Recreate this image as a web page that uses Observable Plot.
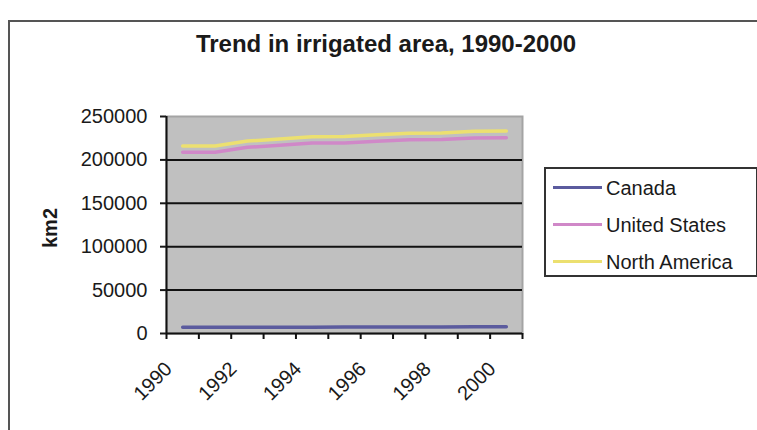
<!DOCTYPE html>
<html><head><meta charset="utf-8">
<script src="https://cdn.jsdelivr.net/npm/d3@7"></script>
<script src="https://cdn.jsdelivr.net/npm/@observablehq/plot@0.6"></script>
<style>
html,body{margin:0;padding:0;background:#fff;}
#wrap{position:relative;width:757px;height:430px;overflow:hidden;font-family:"Liberation Sans",Arial,sans-serif;color:#1a1a1a;}
#chart{position:absolute;left:0;top:0;}
#frame{position:absolute;left:8px;top:20px;width:770px;height:430px;border-left:2px solid #555;border-top:2px solid #555;}
#title{position:absolute;left:0;width:772px;top:32px;text-align:center;font-weight:bold;font-size:24px;line-height:24px;white-space:nowrap;}
#ylabel{position:absolute;left:50px;top:228px;transform:translate(-50%,-50%) rotate(-90deg);font-weight:bold;font-size:20px;line-height:20px;white-space:nowrap;}
#legend{position:absolute;left:544px;top:167px;width:214px;height:110px;border:2px solid #333;box-sizing:border-box;background:#fff;}
.row{display:flex;align-items:center;height:37px;}
.sw{margin-left:7px;width:49px;height:3px;}
.lb{margin-left:4px;font-size:20px;line-height:20px;white-space:nowrap;}
</style></head>
<body>
<div id="wrap">
  <div id="frame"></div>
  <div id="chart"></div>
  <div id="title">Trend in irrigated area, 1990-2000</div>
  <div id="ylabel">km2</div>
  <div id="legend"></div>
</div>
<script>
const years = [1990, 1991, 1992, 1993, 1994, 1995, 1996, 1997, 1998, 1999, 2000];
const series = ["Canada", "United States", "North America"];
const seriesColors = ["#5b5b9e", "#d088c8", "#ece070"];
const canada = [7100, 7100, 7200, 7300, 7300, 7400, 7500, 7600, 7600, 7700, 7700];
const unitedStates = [208800, 208900, 214500, 216800, 219400, 219600, 221500, 223200, 223400, 225300, 225500];
const northAmerica = [215900, 216000, 221700, 224100, 226700, 227000, 229000, 230800, 231000, 233000, 233200];
const yTicks = [0, 50000, 100000, 150000, 200000, 250000];
const xLabels = [1990, 1992, 1994, 1996, 1998, 2000];

const valuesBySeries = {"Canada": canada, "United States": unitedStates, "North America": northAmerica};
const rows = series.flatMap(s => years.map((yr, i) => ({year: yr, series: s, value: valuesBySeries[s][i]})));
const bounds = [...years.map(y => y - 0.5), years[years.length - 1] + 0.5];

const chart = Plot.plot({
  width: 757, height: 430,
  marginLeft: 166, marginRight: 235, marginTop: 116, marginBottom: 97,
  style: {fontFamily: "Liberation Sans, Arial, sans-serif", fontSize: "20px", color: "#1a1a1a", background: "transparent"},
  x: {type: "linear", domain: [bounds[0], bounds[bounds.length - 1]], label: null},
  y: {domain: [yTicks[0], yTicks[yTicks.length - 1]], label: null},
  color: {domain: series, range: seriesColors},
  marks: [
    Plot.frame({fill: "#c0c0c0", stroke: "#a4a4a4", strokeWidth: 2}),
    Plot.gridY({ticks: yTicks.slice(1, -1), stroke: "#111", strokeOpacity: 1, strokeWidth: 2}),
    Plot.ruleX(bounds, {x: d => d, y1: 0, y2: 0, insetBottom: -6, stroke: "#111", strokeWidth: 2}),
    Plot.ruleY([0], {stroke: "#111", strokeWidth: 2}),
    Plot.ruleX([bounds[0]], {stroke: "#111", strokeWidth: 2}),
    Plot.axisY({ticks: yTicks, tickSize: 6, tickPadding: 13, tickFormat: d => String(d), strokeWidth: 2, label: null, fontSize: 20}),
    Plot.axisX({ticks: xLabels, tickSize: 0, tickPadding: 0, tickRotate: -45, textAnchor: "end", lineAnchor: "middle", dx: -14, dy: 32, tickFormat: d => String(d), label: null, fontSize: 20}),
    Plot.line(rows, {x: "year", y: "value", stroke: "series", z: "series", strokeWidth: 3.5})
  ]
});
document.getElementById("chart").appendChild(chart);

const color = chart.scale("color");
const legend = document.getElementById("legend");
series.forEach(s => {
  const row = document.createElement("div");
  row.className = "row";
  const sw = document.createElement("div");
  sw.className = "sw";
  sw.style.background = color.apply(s);
  const lb = document.createElement("div");
  lb.className = "lb";
  lb.textContent = s;
  row.appendChild(sw); row.appendChild(lb);
  legend.appendChild(row);
});
</script>
</body></html>
